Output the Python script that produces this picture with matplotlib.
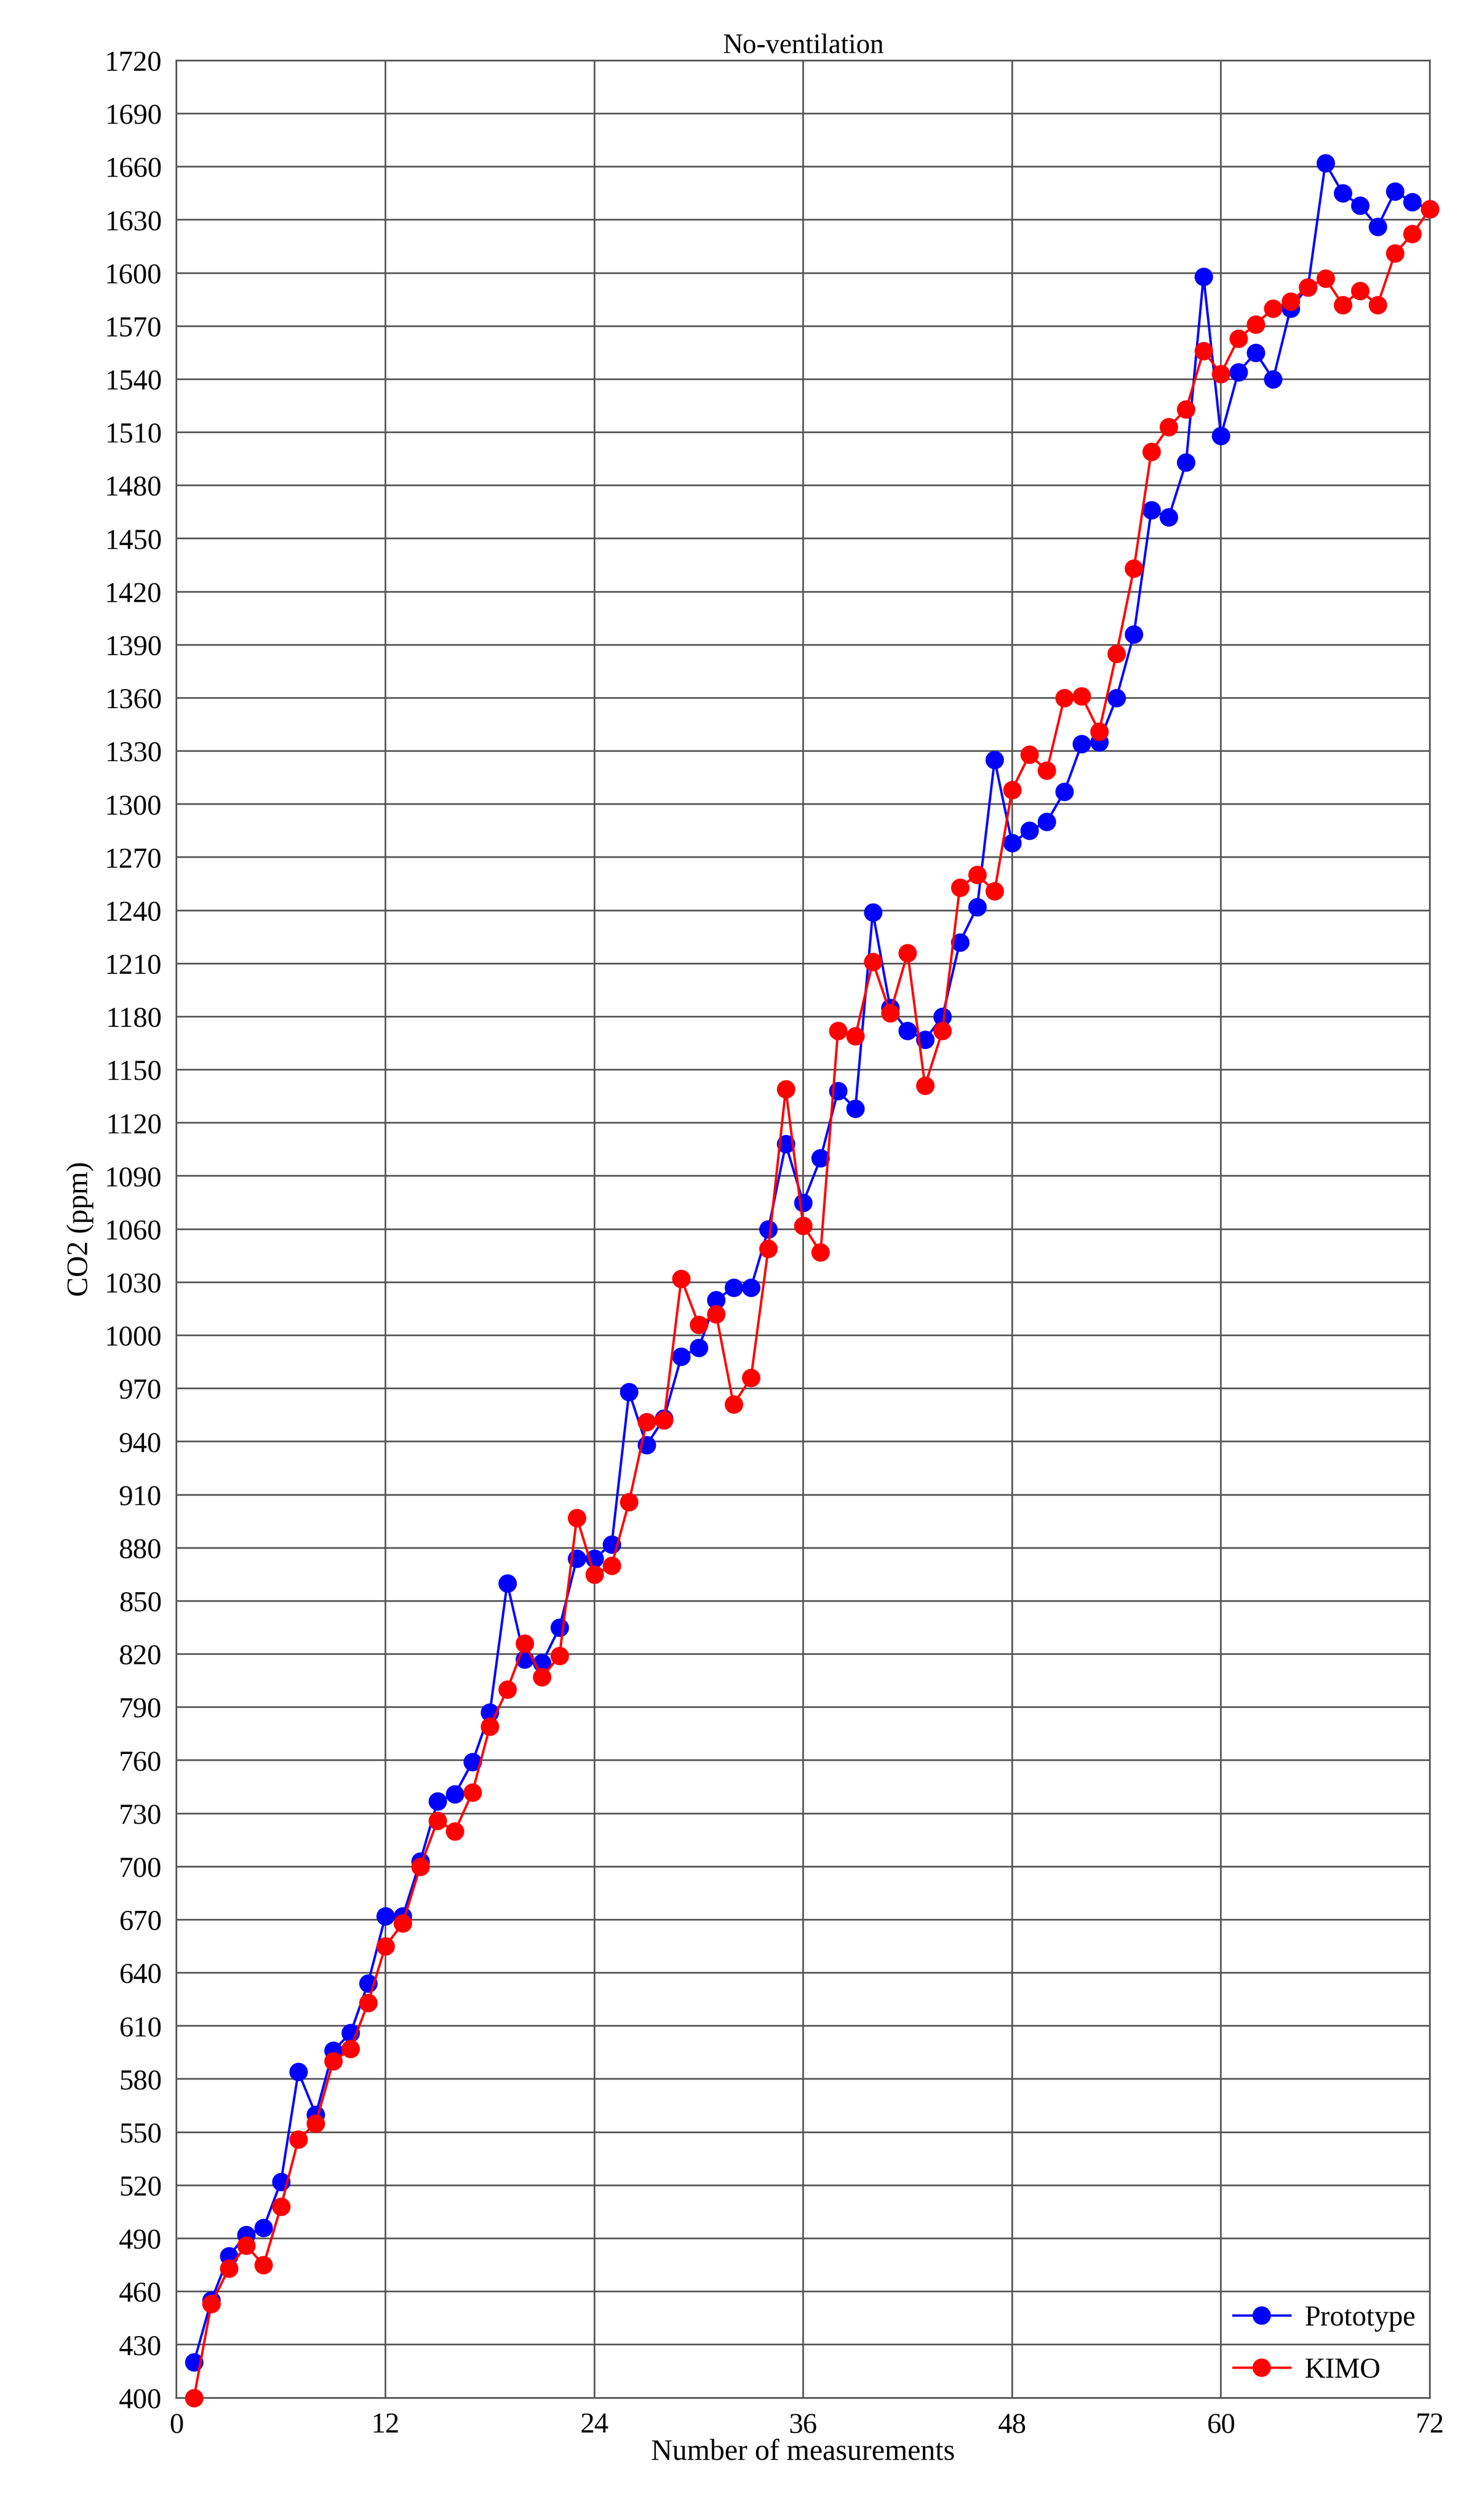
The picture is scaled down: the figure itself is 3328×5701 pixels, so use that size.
import matplotlib.pyplot as plt
import numpy as np

# -------------------------------------------------------------
# Data
# -------------------------------------------------------------
measurements = np.arange(1, 73)

prototype = [
    420, 455, 480, 492, 496, 522, 584, 560, 596, 606, 634, 672,
    672, 703, 737, 741, 759, 787, 860, 817, 815, 835, 874, 874,
    882, 968, 938, 953, 988, 993, 1020, 1027, 1027, 1060, 1108, 1075,
    1100, 1138, 1128, 1239, 1185, 1172, 1167, 1180, 1222, 1242, 1325, 1278,
    1285, 1290, 1307, 1334, 1335, 1360, 1396, 1466, 1462, 1493, 1598, 1508,
    1544, 1555, 1540, 1580, 1592, 1662, 1645, 1638, 1626, 1646, 1640, 1636,
]

kimo = [
    400, 453, 473, 486, 475, 508, 546, 555, 590, 597, 623, 655,
    668, 700, 726, 720, 742, 779, 800, 826, 807, 819, 897, 865,
    870, 906, 951, 952, 1032, 1006, 1012, 961, 976, 1049, 1139, 1062,
    1047, 1172, 1169, 1211, 1182, 1216, 1141, 1172, 1253, 1260, 1251, 1308,
    1328, 1319, 1360, 1361, 1341, 1385, 1433, 1499, 1513, 1523, 1556, 1543,
    1563, 1571, 1580, 1584, 1592, 1597, 1582, 1590, 1582, 1611, 1622, 1636,
]

x_ticks = np.arange(0, 73, 12)
y_ticks = np.arange(400, 1721, 30)

# -------------------------------------------------------------
# Plot
# -------------------------------------------------------------
plt.rcParams["font.family"] = ["Liberation Serif", "DejaVu Serif"]

fig = plt.figure(figsize=(3328 / 300, 5701 / 300), dpi=300)
ax = fig.add_axes([0.120, 0.0485, 0.852, 0.9275])

ax.plot(measurements, prototype, "-o", color="blue", lw=1.3, ms=9,
        label="Prototype", clip_on=False, zorder=3)
ax.plot(measurements, kimo, "-o", color="red", lw=1.3, ms=9,
        label="KIMO", clip_on=False, zorder=4)

ax.set_xlim(0, 72)
ax.set_ylim(400, 1720)
ax.set_xticks(x_ticks)
ax.set_yticks(y_ticks)
ax.tick_params(labelsize=15.5, length=0, pad=8)
ax.grid(True, color="#555555", linewidth=0.9)
ax.set_axisbelow(True)
for s in ax.spines.values():
    s.set_color("#555555")
    s.set_linewidth(0.9)

ax.set_xlabel("Number of measurements", fontsize=16, labelpad=0)
ax.set_ylabel("CO2 (ppm)", fontsize=16, labelpad=6)
ax.set_title("No-ventilation", fontsize=15, pad=4)

ax.legend(loc="lower right", frameon=False, fontsize=15.5, handlelength=2.0,
          borderaxespad=0.1, labelspacing=0.9, handletextpad=0.5)

fig.savefig("out.png", dpi=300)
